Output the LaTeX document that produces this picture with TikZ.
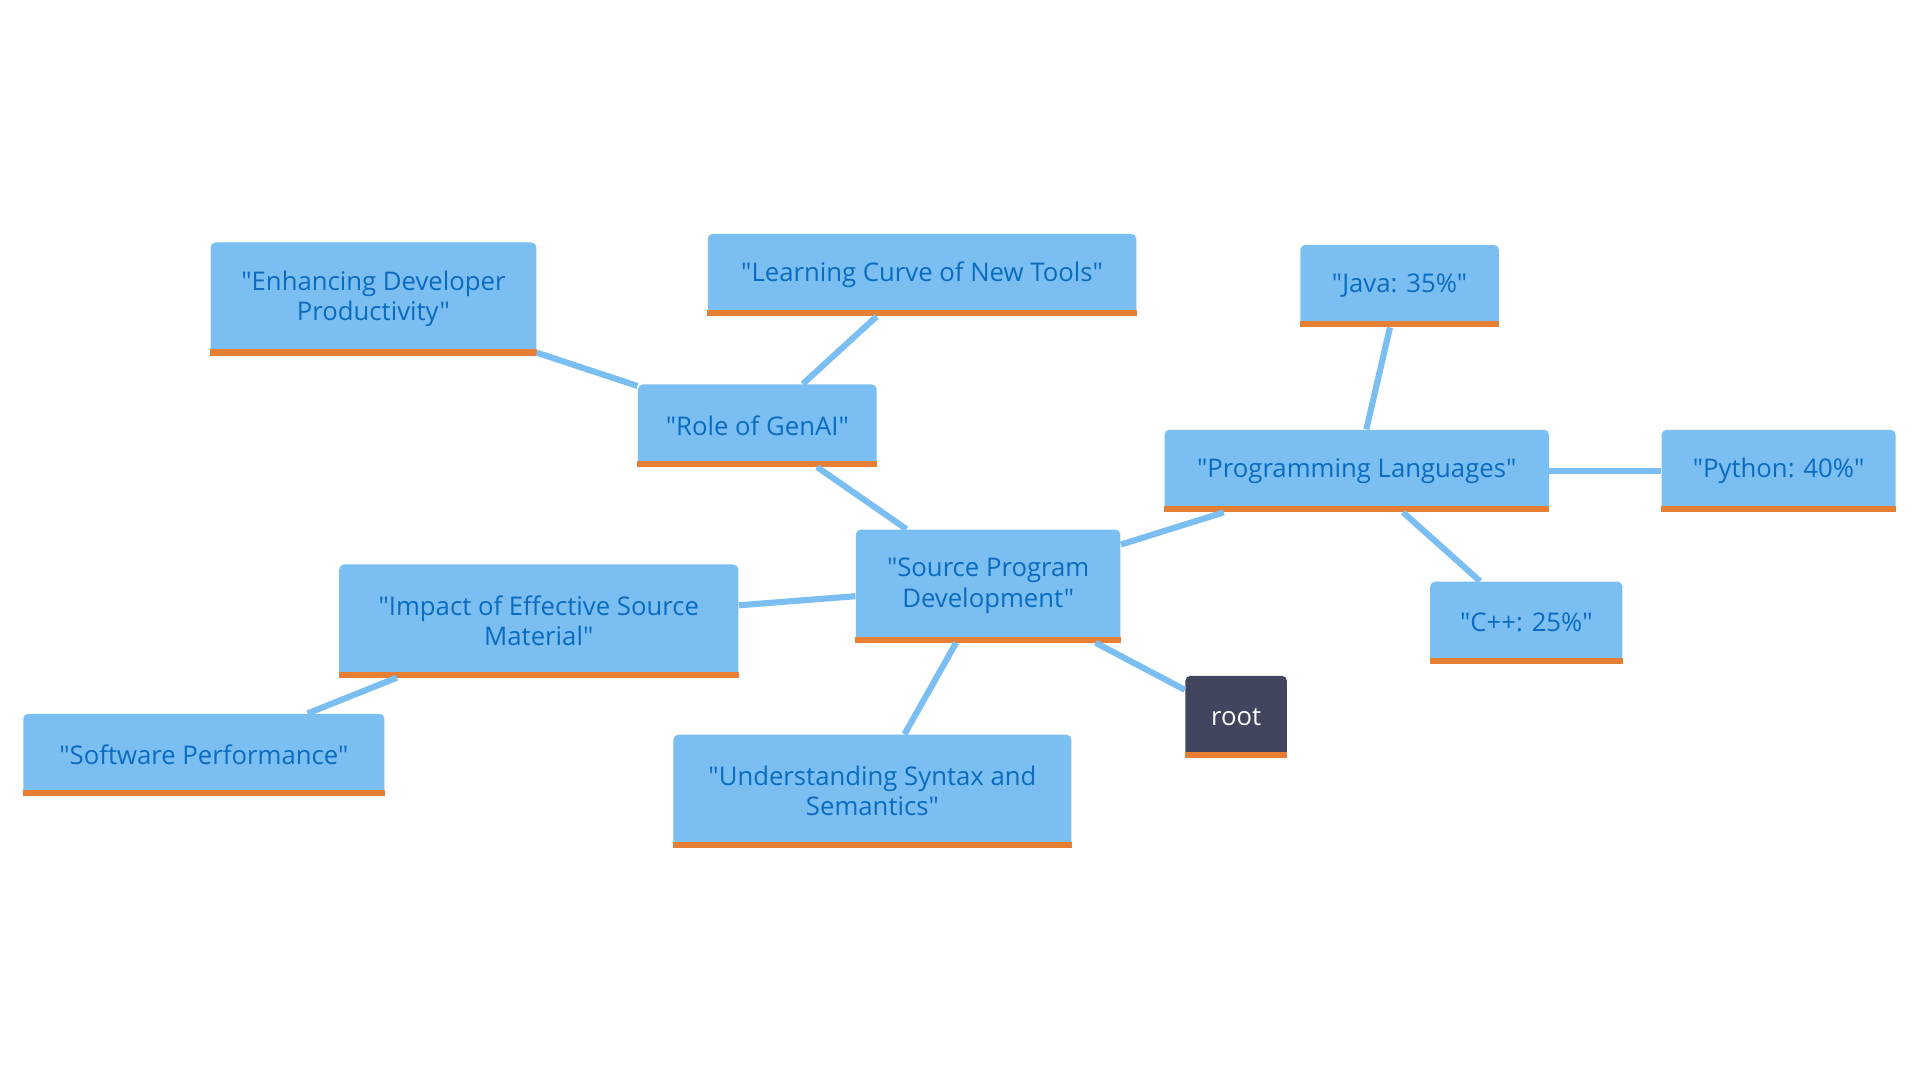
\documentclass[tikz,border=0pt]{standalone}
\usepackage{fontspec}
\setmainfont{Open Sans}[Ligatures=TeXOff]
\definecolor{nodeblue}{HTML}{7BBFF2}
\definecolor{textblue}{HTML}{0A6BBF}
\definecolor{barorange}{HTML}{E67E33}
\definecolor{rootgray}{HTML}{41455E}
\tikzset{
	topic/.style={fill=nodeblue,text=textblue,rounded corners=2pt,align=center,inner sep=0pt,
		minimum height=33.5pt,font=\fontsize{10.5}{12.5}\selectfont},
	twoline/.style={minimum height=46pt},
	rootnode/.style={topic,fill=rootgray,text=white},
	link/.style={draw=nodeblue,line width=2.5pt},
	bar/.style={draw=barorange,line width=2.5pt}
}
\begin{document}
\begin{tikzpicture}[x=0.5pt,y=-0.5pt]
		\fill[white] (0,0) rectangle (1568,882);
		\useasboundingbox (0,0) rectangle (1568,882);
		\node[topic,minimum width=108pt,twoline] (src) at (807,478.5) {"Source Program\\Development"};
		\node[topic,minimum width=97.5pt] (genai) at (618.5,347.5) {"Role of GenAI"};
		\node[topic,minimum width=133pt,twoline] (enh) at (305,244) {"Enhancing Developer\\Productivity"};
		\node[topic,minimum width=175pt] (curve) at (753,224.5) {"Learning Curve of New Tools"};
		\node[topic,minimum width=157pt] (lang) at (1108,384.5) {"Programming Languages"};
		\node[topic,minimum width=81pt] (java) at (1143,233.5) {"Java: 35\%"};
		\node[topic,minimum width=95.5pt] (python) at (1452.5,384.5) {"Python: 40\%"};
		\node[topic,minimum width=78.5pt] (cpp) at (1246.5,508.5) {"C++: 25\%"};
		\node[topic,minimum width=163pt,twoline] (impact) at (440,507) {"Impact of Effective Source\\Material"};
		\node[topic,minimum width=147.5pt] (perf) at (166.5,616.5) {"Software Performance"};
		\node[topic,minimum width=162.5pt,twoline] (syntax) at (712.5,646) {"Understanding Syntax and\\Semantics"};
		\node[rootnode,minimum width=41.5pt] (root) at (1009.5,585.5) {root};
		% orange bottom bars
		\foreach \n in {src,genai,enh,curve,lang,java,python,cpp,impact,perf,syntax,root}
			\draw[bar] ([yshift=1.25pt]\n.south west) -- ([yshift=1.25pt]\n.south east);
		\path[link]
		(src) edge (genai)
		(genai) edge (enh)
		(genai) edge (curve)
		(src) edge (lang)
		(lang) edge (java)
		(lang) edge (python)
		(lang) edge (cpp)
		(src) edge (impact)
		(impact) edge (perf)
		(src) edge (syntax)
		(src) edge (root);
	\end{tikzpicture}
\end{document}
